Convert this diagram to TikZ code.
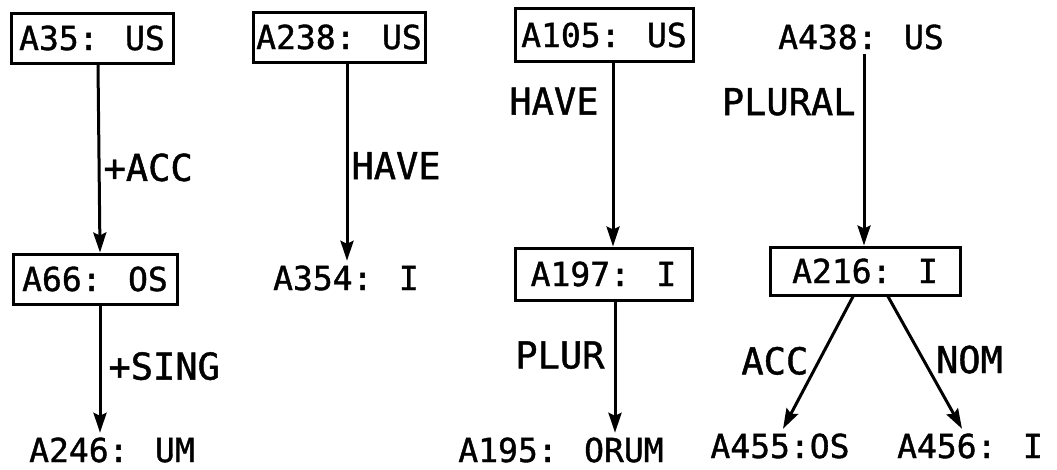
\documentclass[tikz,border=0pt]{standalone}
\usepackage{fontspec}
\newfontfamily\lbl[FakeBold=1.2]{DejaVu Sans Mono}
\usetikzlibrary{arrows.meta}
\begin{document}
\begin{tikzpicture}[x=1pt,y=-1pt,
  every node/.style={font=\lbl\fontsize{33pt}{36pt}\selectfont},
  boxnode/.style={draw,line width=3pt,inner sep=0pt,text height=24pt,text depth=0pt},
  txtnode/.style={inner sep=5pt,text height=24pt,text depth=0pt},
  lab/.style={font=\lbl\fontsize{37pt}{40pt}\selectfont,inner sep=3pt,text height=26pt,text depth=0pt},
  arr/.style={line width=3pt,-{Stealth[length=20pt,width=13pt,inset=3pt]}}]
\useasboundingbox (0,0) rectangle (1057,469);
% boxes
\node[boxnode,minimum width=162pt,minimum height=50pt] (b35) at (92,38) {A35: US};
\node[boxnode,minimum width=172pt,minimum height=50pt] (b238) at (339,37) {A238: US};
\node[boxnode,minimum width=178pt,minimum height=53pt] (b105) at (604,35) {A105: US};
\node[boxnode,minimum width=164pt,minimum height=50pt] (b66) at (95,279) {A66: OS};
\node[boxnode,minimum width=177pt,minimum height=52pt] (b197) at (603.5,274) {A197: I};
\node[boxnode,minimum width=190pt,minimum height=48pt] (b216) at (865,271) {A216: I};
% plain texts
\node[txtnode] (t354) at (346,278) {A354: I};
\node[txtnode] (t246) at (112,450) {A246: UM};
\node[txtnode] (t195) at (561,450) {A195: ORUM};
\node[txtnode] (t438) at (861,37) {A438: US};
\node[txtnode] (t455) at (780,446) {A455:OS};
\node[txtnode] (t456) at (970,446) {A456: I};
% connectors
\draw[arr] ([xshift=6pt]b35.south) -- ([xshift=5pt]b66.north)
  node[lab,pos=0.55,anchor=west] {+ACC};
\draw[arr] ([xshift=5pt]b66.south) -- ([xshift=5pt]b66.south |- t246.north)
  node[lab,pos=0.48,anchor=west,xshift=4pt] {+SING};
\draw[arr] ([xshift=8pt]b238.south) -- ([xshift=8pt]b238.south |- t354.north)
  node[lab,pos=0.52,anchor=west] {HAVE};
\draw[arr] ([xshift=9pt]b105.south) -- ([xshift=9.5pt]b197.north)
  node[lab,pos=0.21,anchor=east,xshift=-10pt] {HAVE};
\draw[arr] ([xshift=11.5pt]b197.south) -- ([xshift=11.5pt]b197.south |- t195.north)
  node[lab,pos=0.41,anchor=east,xshift=-6pt] {PLUR};
\draw[arr] ([xshift=3pt]t438.south) -- ([xshift=3pt]t438.south |- b216.north)
  node[lab,pos=0.25,anchor=east,xshift=-4pt] {PLURAL};
\draw[arr] ([xshift=-12pt]b216.south) -- ([xshift=3pt]t455.north)
  node[lab,pos=0.49,anchor=east,xshift=-6pt] {ACC};
\draw[arr] ([xshift=23pt]b216.south) -- ([xshift=-8pt]t456.north)
  node[lab,pos=0.48,anchor=west,xshift=8pt] {NOM};
\end{tikzpicture}
\end{document}
